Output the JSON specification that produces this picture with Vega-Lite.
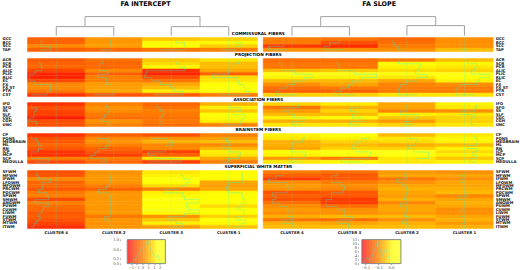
{"$schema":"https://vega.github.io/schema/vega-lite/v6.json","background":"white","padding":{"left":1.5,"top":0.6,"right":0,"bottom":0},
"config":{"view":{"stroke":null},"axis":{"grid":false,"ticks":false,"domain":false,"title":null,"labelFont":"DejaVu Sans","labelFontWeight":"bold","labelFontSize":3.9,"labelColor":"#111","labelOverlap":false,"labelBound":false,"labelFlush":false},"rect":{"strokeWidth":0.5},"line":{"interpolate":"step-before","color":"#00ffff","opacity":0.34,"strokeWidth":0.9},"rule":{"color":"#00ffff","opacity":0.18,"strokeWidth":1},"text":{"font":"DejaVu Sans","fontWeight":"bold","fontSize":4.2,"color":"#000"},"title":{"font":"DejaVu Sans","fontWeight":"bold","fontSize":6.4,"color":"#000","offset":9}},
"datasets":{"cells":[
{"p":"I","g":1,"i":0,"t":"GCC","c":"CLUSTER 4","v":-0.55},{"p":"I","g":1,"i":0,"t":"GCC","c":"CLUSTER 2","v":0.15},{"p":"I","g":1,"i":0,"t":"GCC","c":"CLUSTER 3","v":0.6},{"p":"I","g":1,"i":0,"t":"GCC","c":"CLUSTER 1","v":0.7},
{"p":"I","g":1,"i":1,"t":"BCC","c":"CLUSTER 4","v":-0.55},{"p":"I","g":1,"i":1,"t":"BCC","c":"CLUSTER 2","v":0.15},{"p":"I","g":1,"i":1,"t":"BCC","c":"CLUSTER 3","v":1.1},{"p":"I","g":1,"i":1,"t":"BCC","c":"CLUSTER 1","v":1.1},
{"p":"I","g":1,"i":2,"t":"SCC","c":"CLUSTER 4","v":0.0},{"p":"I","g":1,"i":2,"t":"SCC","c":"CLUSTER 2","v":0.2},{"p":"I","g":1,"i":2,"t":"SCC","c":"CLUSTER 3","v":1.15},{"p":"I","g":1,"i":2,"t":"SCC","c":"CLUSTER 1","v":0.7},
{"p":"I","g":1,"i":3,"t":"TAP","c":"CLUSTER 4","v":-0.6},{"p":"I","g":1,"i":3,"t":"TAP","c":"CLUSTER 2","v":-0.5},{"p":"I","g":1,"i":3,"t":"TAP","c":"CLUSTER 3","v":-0.3},{"p":"I","g":1,"i":3,"t":"TAP","c":"CLUSTER 1","v":-0.1},
{"p":"I","g":2,"i":0,"t":"ACR","c":"CLUSTER 4","v":-0.65},{"p":"I","g":2,"i":0,"t":"ACR","c":"CLUSTER 2","v":-0.3},{"p":"I","g":2,"i":0,"t":"ACR","c":"CLUSTER 3","v":0.6},{"p":"I","g":2,"i":0,"t":"ACR","c":"CLUSTER 1","v":0.9},
{"p":"I","g":2,"i":1,"t":"SCR","c":"CLUSTER 4","v":-0.55},{"p":"I","g":2,"i":1,"t":"SCR","c":"CLUSTER 2","v":-0.5},{"p":"I","g":2,"i":1,"t":"SCR","c":"CLUSTER 3","v":0.8},{"p":"I","g":2,"i":1,"t":"SCR","c":"CLUSTER 1","v":0.5},
{"p":"I","g":2,"i":2,"t":"PCR","c":"CLUSTER 4","v":-0.5},{"p":"I","g":2,"i":2,"t":"PCR","c":"CLUSTER 2","v":-0.5},{"p":"I","g":2,"i":2,"t":"PCR","c":"CLUSTER 3","v":1.1},{"p":"I","g":2,"i":2,"t":"PCR","c":"CLUSTER 1","v":0.5},
{"p":"I","g":2,"i":3,"t":"ALIC","c":"CLUSTER 4","v":-0.9},{"p":"I","g":2,"i":3,"t":"ALIC","c":"CLUSTER 2","v":0.0},{"p":"I","g":2,"i":3,"t":"ALIC","c":"CLUSTER 3","v":-1.1},{"p":"I","g":2,"i":3,"t":"ALIC","c":"CLUSTER 1","v":0.3},
{"p":"I","g":2,"i":4,"t":"PLIC","c":"CLUSTER 4","v":-1.2},{"p":"I","g":2,"i":4,"t":"PLIC","c":"CLUSTER 2","v":-0.6},{"p":"I","g":2,"i":4,"t":"PLIC","c":"CLUSTER 3","v":-1.2},{"p":"I","g":2,"i":4,"t":"PLIC","c":"CLUSTER 1","v":-0.6},
{"p":"I","g":2,"i":5,"t":"RLIC","c":"CLUSTER 4","v":-1.2},{"p":"I","g":2,"i":5,"t":"RLIC","c":"CLUSTER 2","v":-0.1},{"p":"I","g":2,"i":5,"t":"RLIC","c":"CLUSTER 3","v":-0.8},{"p":"I","g":2,"i":5,"t":"RLIC","c":"CLUSTER 1","v":0.8},
{"p":"I","g":2,"i":6,"t":"EC","c":"CLUSTER 4","v":-0.9},{"p":"I","g":2,"i":6,"t":"EC","c":"CLUSTER 2","v":-0.1},{"p":"I","g":2,"i":6,"t":"EC","c":"CLUSTER 3","v":-0.3},{"p":"I","g":2,"i":6,"t":"EC","c":"CLUSTER 1","v":0.9},
{"p":"I","g":2,"i":7,"t":"FX","c":"CLUSTER 4","v":0.0},{"p":"I","g":2,"i":7,"t":"FX","c":"CLUSTER 2","v":0.2},{"p":"I","g":2,"i":7,"t":"FX","c":"CLUSTER 3","v":0.3},{"p":"I","g":2,"i":7,"t":"FX","c":"CLUSTER 1","v":1.2},
{"p":"I","g":2,"i":8,"t":"FX ST","c":"CLUSTER 4","v":0.0},{"p":"I","g":2,"i":8,"t":"FX ST","c":"CLUSTER 2","v":0.2},{"p":"I","g":2,"i":8,"t":"FX ST","c":"CLUSTER 3","v":0.5},{"p":"I","g":2,"i":8,"t":"FX ST","c":"CLUSTER 1","v":1.3},
{"p":"I","g":2,"i":9,"t":"PTR","c":"CLUSTER 4","v":-0.2},{"p":"I","g":2,"i":9,"t":"PTR","c":"CLUSTER 2","v":0.3},{"p":"I","g":2,"i":9,"t":"PTR","c":"CLUSTER 3","v":1.0},{"p":"I","g":2,"i":9,"t":"PTR","c":"CLUSTER 1","v":1.5},
{"p":"I","g":2,"i":10,"t":"CST","c":"CLUSTER 4","v":-1.1},{"p":"I","g":2,"i":10,"t":"CST","c":"CLUSTER 2","v":-0.8},{"p":"I","g":2,"i":10,"t":"CST","c":"CLUSTER 3","v":-0.7},{"p":"I","g":2,"i":10,"t":"CST","c":"CLUSTER 1","v":-0.2},
{"p":"I","g":3,"i":0,"t":"IFO","c":"CLUSTER 4","v":-1.1},{"p":"I","g":3,"i":0,"t":"IFO","c":"CLUSTER 2","v":-0.1},{"p":"I","g":3,"i":0,"t":"IFO","c":"CLUSTER 3","v":-0.5},{"p":"I","g":3,"i":0,"t":"IFO","c":"CLUSTER 1","v":0.4},
{"p":"I","g":3,"i":1,"t":"SFO","c":"CLUSTER 4","v":-0.8},{"p":"I","g":3,"i":1,"t":"SFO","c":"CLUSTER 2","v":0.1},{"p":"I","g":3,"i":1,"t":"SFO","c":"CLUSTER 3","v":-0.3},{"p":"I","g":3,"i":1,"t":"SFO","c":"CLUSTER 1","v":1.0},
{"p":"I","g":3,"i":2,"t":"SS","c":"CLUSTER 4","v":-0.95},{"p":"I","g":3,"i":2,"t":"SS","c":"CLUSTER 2","v":0.0},{"p":"I","g":3,"i":2,"t":"SS","c":"CLUSTER 3","v":-0.1},{"p":"I","g":3,"i":2,"t":"SS","c":"CLUSTER 1","v":0.6},
{"p":"I","g":3,"i":3,"t":"SLF","c":"CLUSTER 4","v":-0.95},{"p":"I","g":3,"i":3,"t":"SLF","c":"CLUSTER 2","v":-0.2},{"p":"I","g":3,"i":3,"t":"SLF","c":"CLUSTER 3","v":-0.2},{"p":"I","g":3,"i":3,"t":"SLF","c":"CLUSTER 1","v":1.3},
{"p":"I","g":3,"i":4,"t":"CGC","c":"CLUSTER 4","v":-1.25},{"p":"I","g":3,"i":4,"t":"CGC","c":"CLUSTER 2","v":-0.4},{"p":"I","g":3,"i":4,"t":"CGC","c":"CLUSTER 3","v":-0.35},{"p":"I","g":3,"i":4,"t":"CGC","c":"CLUSTER 1","v":1.1},
{"p":"I","g":3,"i":5,"t":"CGH","c":"CLUSTER 4","v":-0.8},{"p":"I","g":3,"i":5,"t":"CGH","c":"CLUSTER 2","v":0.1},{"p":"I","g":3,"i":5,"t":"CGH","c":"CLUSTER 3","v":-0.2},{"p":"I","g":3,"i":5,"t":"CGH","c":"CLUSTER 1","v":1.0},
{"p":"I","g":3,"i":6,"t":"UNC","c":"CLUSTER 4","v":-0.8},{"p":"I","g":3,"i":6,"t":"UNC","c":"CLUSTER 2","v":-0.1},{"p":"I","g":3,"i":6,"t":"UNC","c":"CLUSTER 3","v":-0.4},{"p":"I","g":3,"i":6,"t":"UNC","c":"CLUSTER 1","v":-0.1},
{"p":"I","g":4,"i":0,"t":"CP","c":"CLUSTER 4","v":-1.1},{"p":"I","g":4,"i":0,"t":"CP","c":"CLUSTER 2","v":-0.6},{"p":"I","g":4,"i":0,"t":"CP","c":"CLUSTER 3","v":-0.8},{"p":"I","g":4,"i":0,"t":"CP","c":"CLUSTER 1","v":-0.1},
{"p":"I","g":4,"i":1,"t":"PONS","c":"CLUSTER 4","v":-0.8},{"p":"I","g":4,"i":1,"t":"PONS","c":"CLUSTER 2","v":0.0},{"p":"I","g":4,"i":1,"t":"PONS","c":"CLUSTER 3","v":0.1},{"p":"I","g":4,"i":1,"t":"PONS","c":"CLUSTER 1","v":0.2},
{"p":"I","g":4,"i":2,"t":"MEDBRAIN","c":"CLUSTER 4","v":-0.7},{"p":"I","g":4,"i":2,"t":"MEDBRAIN","c":"CLUSTER 2","v":0.1},{"p":"I","g":4,"i":2,"t":"MEDBRAIN","c":"CLUSTER 3","v":0.4},{"p":"I","g":4,"i":2,"t":"MEDBRAIN","c":"CLUSTER 1","v":0.5},
{"p":"I","g":4,"i":3,"t":"ML","c":"CLUSTER 4","v":-0.5},{"p":"I","g":4,"i":3,"t":"ML","c":"CLUSTER 2","v":-0.1},{"p":"I","g":4,"i":3,"t":"ML","c":"CLUSTER 3","v":0.0},{"p":"I","g":4,"i":3,"t":"ML","c":"CLUSTER 1","v":0.0},
{"p":"I","g":4,"i":4,"t":"RN","c":"CLUSTER 4","v":-0.7},{"p":"I","g":4,"i":4,"t":"RN","c":"CLUSTER 2","v":-0.5},{"p":"I","g":4,"i":4,"t":"RN","c":"CLUSTER 3","v":0.0},{"p":"I","g":4,"i":4,"t":"RN","c":"CLUSTER 1","v":0.4},
{"p":"I","g":4,"i":5,"t":"ICP","c":"CLUSTER 4","v":-1.1},{"p":"I","g":4,"i":5,"t":"ICP","c":"CLUSTER 2","v":-0.75},{"p":"I","g":4,"i":5,"t":"ICP","c":"CLUSTER 3","v":-1.0},{"p":"I","g":4,"i":5,"t":"ICP","c":"CLUSTER 1","v":1.0},
{"p":"I","g":4,"i":6,"t":"MCP","c":"CLUSTER 4","v":-1.1},{"p":"I","g":4,"i":6,"t":"MCP","c":"CLUSTER 2","v":-1.0},{"p":"I","g":4,"i":6,"t":"MCP","c":"CLUSTER 3","v":-0.6},{"p":"I","g":4,"i":6,"t":"MCP","c":"CLUSTER 1","v":0.9},
{"p":"I","g":4,"i":7,"t":"SCP","c":"CLUSTER 4","v":-0.1},{"p":"I","g":4,"i":7,"t":"SCP","c":"CLUSTER 2","v":-0.1},{"p":"I","g":4,"i":7,"t":"SCP","c":"CLUSTER 3","v":0.9},{"p":"I","g":4,"i":7,"t":"SCP","c":"CLUSTER 1","v":0.3},
{"p":"I","g":4,"i":8,"t":"MEDULLA","c":"CLUSTER 4","v":-0.9},{"p":"I","g":4,"i":8,"t":"MEDULLA","c":"CLUSTER 2","v":-0.5},{"p":"I","g":4,"i":8,"t":"MEDULLA","c":"CLUSTER 3","v":-1.0},{"p":"I","g":4,"i":8,"t":"MEDULLA","c":"CLUSTER 1","v":-0.1},
{"p":"I","g":5,"i":0,"t":"SFWM","c":"CLUSTER 4","v":-0.8},{"p":"I","g":5,"i":0,"t":"SFWM","c":"CLUSTER 2","v":0.1},{"p":"I","g":5,"i":0,"t":"SFWM","c":"CLUSTER 3","v":0.9},{"p":"I","g":5,"i":0,"t":"SFWM","c":"CLUSTER 1","v":1.1},
{"p":"I","g":5,"i":1,"t":"MFWM","c":"CLUSTER 4","v":-0.7},{"p":"I","g":5,"i":1,"t":"MFWM","c":"CLUSTER 2","v":0.15},{"p":"I","g":5,"i":1,"t":"MFWM","c":"CLUSTER 3","v":1.05},{"p":"I","g":5,"i":1,"t":"MFWM","c":"CLUSTER 1","v":1.15},
{"p":"I","g":5,"i":2,"t":"IFWM","c":"CLUSTER 4","v":0.0},{"p":"I","g":5,"i":2,"t":"IFWM","c":"CLUSTER 2","v":0.15},{"p":"I","g":5,"i":2,"t":"IFWM","c":"CLUSTER 3","v":1.4},{"p":"I","g":5,"i":2,"t":"IFWM","c":"CLUSTER 1","v":1.1},
{"p":"I","g":5,"i":3,"t":"LFOWM","c":"CLUSTER 4","v":-0.5},{"p":"I","g":5,"i":3,"t":"LFOWM","c":"CLUSTER 2","v":0.1},{"p":"I","g":5,"i":3,"t":"LFOWM","c":"CLUSTER 3","v":1.2},{"p":"I","g":5,"i":3,"t":"LFOWM","c":"CLUSTER 1","v":0.3},
{"p":"I","g":5,"i":4,"t":"MFOWM","c":"CLUSTER 4","v":-0.45},{"p":"I","g":5,"i":4,"t":"MFOWM","c":"CLUSTER 2","v":-0.1},{"p":"I","g":5,"i":4,"t":"MFOWM","c":"CLUSTER 3","v":0.8},{"p":"I","g":5,"i":4,"t":"MFOWM","c":"CLUSTER 1","v":0.2},
{"p":"I","g":5,"i":5,"t":"PRCWM","c":"CLUSTER 4","v":-0.7},{"p":"I","g":5,"i":5,"t":"PRCWM","c":"CLUSTER 2","v":-0.55},{"p":"I","g":5,"i":5,"t":"PRCWM","c":"CLUSTER 3","v":-0.1},{"p":"I","g":5,"i":5,"t":"PRCWM","c":"CLUSTER 1","v":0.3},
{"p":"I","g":5,"i":6,"t":"POCWM","c":"CLUSTER 4","v":-0.2},{"p":"I","g":5,"i":6,"t":"POCWM","c":"CLUSTER 2","v":0.1},{"p":"I","g":5,"i":6,"t":"POCWM","c":"CLUSTER 3","v":1.0},{"p":"I","g":5,"i":6,"t":"POCWM","c":"CLUSTER 1","v":1.1},
{"p":"I","g":5,"i":7,"t":"SPWM","c":"CLUSTER 4","v":-0.1},{"p":"I","g":5,"i":7,"t":"SPWM","c":"CLUSTER 2","v":0.15},{"p":"I","g":5,"i":7,"t":"SPWM","c":"CLUSTER 3","v":1.1},{"p":"I","g":5,"i":7,"t":"SPWM","c":"CLUSTER 1","v":1.15},
{"p":"I","g":5,"i":8,"t":"SMWM","c":"CLUSTER 4","v":-0.9},{"p":"I","g":5,"i":8,"t":"SMWM","c":"CLUSTER 2","v":0.15},{"p":"I","g":5,"i":8,"t":"SMWM","c":"CLUSTER 3","v":1.95},{"p":"I","g":5,"i":8,"t":"SMWM","c":"CLUSTER 1","v":1.3},
{"p":"I","g":5,"i":9,"t":"ANGWM","c":"CLUSTER 4","v":-0.1},{"p":"I","g":5,"i":9,"t":"ANGWM","c":"CLUSTER 2","v":0.15},{"p":"I","g":5,"i":9,"t":"ANGWM","c":"CLUSTER 3","v":1.2},{"p":"I","g":5,"i":9,"t":"ANGWM","c":"CLUSTER 1","v":1.15},
{"p":"I","g":5,"i":10,"t":"PUWM","c":"CLUSTER 4","v":-0.4},{"p":"I","g":5,"i":10,"t":"PUWM","c":"CLUSTER 2","v":0.15},{"p":"I","g":5,"i":10,"t":"PUWM","c":"CLUSTER 3","v":1.3},{"p":"I","g":5,"i":10,"t":"PUWM","c":"CLUSTER 1","v":0.8},
{"p":"I","g":5,"i":11,"t":"CUWM","c":"CLUSTER 4","v":-0.5},{"p":"I","g":5,"i":11,"t":"CUWM","c":"CLUSTER 2","v":0.15},{"p":"I","g":5,"i":11,"t":"CUWM","c":"CLUSTER 3","v":1.95},{"p":"I","g":5,"i":11,"t":"CUWM","c":"CLUSTER 1","v":1.2},
{"p":"I","g":5,"i":12,"t":"LIWM","c":"CLUSTER 4","v":-0.7},{"p":"I","g":5,"i":12,"t":"LIWM","c":"CLUSTER 2","v":0.15},{"p":"I","g":5,"i":12,"t":"LIWM","c":"CLUSTER 3","v":1.1},{"p":"I","g":5,"i":12,"t":"LIWM","c":"CLUSTER 1","v":1.2},
{"p":"I","g":5,"i":13,"t":"FUWM","c":"CLUSTER 4","v":-0.6},{"p":"I","g":5,"i":13,"t":"FUWM","c":"CLUSTER 2","v":-0.2},{"p":"I","g":5,"i":13,"t":"FUWM","c":"CLUSTER 3","v":0.1},{"p":"I","g":5,"i":13,"t":"FUWM","c":"CLUSTER 1","v":0.7},
{"p":"I","g":5,"i":14,"t":"STWM","c":"CLUSTER 4","v":-0.8},{"p":"I","g":5,"i":14,"t":"STWM","c":"CLUSTER 2","v":0.1},{"p":"I","g":5,"i":14,"t":"STWM","c":"CLUSTER 3","v":0.6},{"p":"I","g":5,"i":14,"t":"STWM","c":"CLUSTER 1","v":1.3},
{"p":"I","g":5,"i":15,"t":"MTWM","c":"CLUSTER 4","v":-0.95},{"p":"I","g":5,"i":15,"t":"MTWM","c":"CLUSTER 2","v":0.1},{"p":"I","g":5,"i":15,"t":"MTWM","c":"CLUSTER 3","v":1.0},{"p":"I","g":5,"i":15,"t":"MTWM","c":"CLUSTER 1","v":1.1},
{"p":"I","g":5,"i":16,"t":"ITWM","c":"CLUSTER 4","v":-1.15},{"p":"I","g":5,"i":16,"t":"ITWM","c":"CLUSTER 2","v":0.1},{"p":"I","g":5,"i":16,"t":"ITWM","c":"CLUSTER 3","v":0.2},{"p":"I","g":5,"i":16,"t":"ITWM","c":"CLUSTER 1","v":0.6},
{"p":"S","g":1,"i":0,"t":"GCC","c":"CLUSTER 4","v":-0.06},{"p":"S","g":1,"i":0,"t":"GCC","c":"CLUSTER 3","v":-0.065},{"p":"S","g":1,"i":0,"t":"GCC","c":"CLUSTER 2","v":-0.075},{"p":"S","g":1,"i":0,"t":"GCC","c":"CLUSTER 1","v":-0.05},
{"p":"S","g":1,"i":1,"t":"BCC","c":"CLUSTER 4","v":-0.06},{"p":"S","g":1,"i":1,"t":"BCC","c":"CLUSTER 3","v":-0.09},{"p":"S","g":1,"i":1,"t":"BCC","c":"CLUSTER 2","v":-0.07},{"p":"S","g":1,"i":1,"t":"BCC","c":"CLUSTER 1","v":-0.05},
{"p":"S","g":1,"i":2,"t":"SCC","c":"CLUSTER 4","v":-0.1},{"p":"S","g":1,"i":2,"t":"SCC","c":"CLUSTER 3","v":-0.105},{"p":"S","g":1,"i":2,"t":"SCC","c":"CLUSTER 2","v":-0.06},{"p":"S","g":1,"i":2,"t":"SCC","c":"CLUSTER 1","v":-0.05},
{"p":"S","g":1,"i":3,"t":"TAP","c":"CLUSTER 4","v":-0.05},{"p":"S","g":1,"i":3,"t":"TAP","c":"CLUSTER 3","v":-0.05},{"p":"S","g":1,"i":3,"t":"TAP","c":"CLUSTER 2","v":-0.05},{"p":"S","g":1,"i":3,"t":"TAP","c":"CLUSTER 1","v":-0.03},
{"p":"S","g":2,"i":0,"t":"ACR","c":"CLUSTER 4","v":-0.07},{"p":"S","g":2,"i":0,"t":"ACR","c":"CLUSTER 3","v":-0.07},{"p":"S","g":2,"i":0,"t":"ACR","c":"CLUSTER 2","v":-0.06},{"p":"S","g":2,"i":0,"t":"ACR","c":"CLUSTER 1","v":-0.03},
{"p":"S","g":2,"i":1,"t":"SCR","c":"CLUSTER 4","v":-0.065},{"p":"S","g":2,"i":1,"t":"SCR","c":"CLUSTER 3","v":-0.065},{"p":"S","g":2,"i":1,"t":"SCR","c":"CLUSTER 2","v":0.0},{"p":"S","g":2,"i":1,"t":"SCR","c":"CLUSTER 1","v":-0.003},
{"p":"S","g":2,"i":2,"t":"PCR","c":"CLUSTER 4","v":-0.065},{"p":"S","g":2,"i":2,"t":"PCR","c":"CLUSTER 3","v":-0.065},{"p":"S","g":2,"i":2,"t":"PCR","c":"CLUSTER 2","v":-0.005},{"p":"S","g":2,"i":2,"t":"PCR","c":"CLUSTER 1","v":-0.01},
{"p":"S","g":2,"i":3,"t":"ALIC","c":"CLUSTER 4","v":-0.03},{"p":"S","g":2,"i":3,"t":"ALIC","c":"CLUSTER 3","v":-0.025},{"p":"S","g":2,"i":3,"t":"ALIC","c":"CLUSTER 2","v":-0.015},{"p":"S","g":2,"i":3,"t":"ALIC","c":"CLUSTER 1","v":-0.02},
{"p":"S","g":2,"i":4,"t":"PLIC","c":"CLUSTER 4","v":0.02},{"p":"S","g":2,"i":4,"t":"PLIC","c":"CLUSTER 3","v":0.035},{"p":"S","g":2,"i":4,"t":"PLIC","c":"CLUSTER 2","v":0.016},{"p":"S","g":2,"i":4,"t":"PLIC","c":"CLUSTER 1","v":0.03},
{"p":"S","g":2,"i":5,"t":"RLIC","c":"CLUSTER 4","v":-0.005},{"p":"S","g":2,"i":5,"t":"RLIC","c":"CLUSTER 3","v":-0.005},{"p":"S","g":2,"i":5,"t":"RLIC","c":"CLUSTER 2","v":-0.01},{"p":"S","g":2,"i":5,"t":"RLIC","c":"CLUSTER 1","v":0.002},
{"p":"S","g":2,"i":6,"t":"EC","c":"CLUSTER 4","v":-0.03},{"p":"S","g":2,"i":6,"t":"EC","c":"CLUSTER 3","v":-0.03},{"p":"S","g":2,"i":6,"t":"EC","c":"CLUSTER 2","v":-0.04},{"p":"S","g":2,"i":6,"t":"EC","c":"CLUSTER 1","v":-0.005},
{"p":"S","g":2,"i":7,"t":"FX","c":"CLUSTER 4","v":-0.05},{"p":"S","g":2,"i":7,"t":"FX","c":"CLUSTER 3","v":-0.04},{"p":"S","g":2,"i":7,"t":"FX","c":"CLUSTER 2","v":-0.055},{"p":"S","g":2,"i":7,"t":"FX","c":"CLUSTER 1","v":-0.05},
{"p":"S","g":2,"i":8,"t":"FX ST","c":"CLUSTER 4","v":-0.07},{"p":"S","g":2,"i":8,"t":"FX ST","c":"CLUSTER 3","v":-0.06},{"p":"S","g":2,"i":8,"t":"FX ST","c":"CLUSTER 2","v":-0.06},{"p":"S","g":2,"i":8,"t":"FX ST","c":"CLUSTER 1","v":-0.06},
{"p":"S","g":2,"i":9,"t":"PTR","c":"CLUSTER 4","v":-0.08},{"p":"S","g":2,"i":9,"t":"PTR","c":"CLUSTER 3","v":-0.08},{"p":"S","g":2,"i":9,"t":"PTR","c":"CLUSTER 2","v":-0.06},{"p":"S","g":2,"i":9,"t":"PTR","c":"CLUSTER 1","v":-0.06},
{"p":"S","g":2,"i":10,"t":"CST","c":"CLUSTER 4","v":-0.02},{"p":"S","g":2,"i":10,"t":"CST","c":"CLUSTER 3","v":-0.02},{"p":"S","g":2,"i":10,"t":"CST","c":"CLUSTER 2","v":-0.01},{"p":"S","g":2,"i":10,"t":"CST","c":"CLUSTER 1","v":-0.01},
{"p":"S","g":3,"i":0,"t":"IFO","c":"CLUSTER 4","v":-0.02},{"p":"S","g":3,"i":0,"t":"IFO","c":"CLUSTER 3","v":-0.01},{"p":"S","g":3,"i":0,"t":"IFO","c":"CLUSTER 2","v":-0.04},{"p":"S","g":3,"i":0,"t":"IFO","c":"CLUSTER 1","v":-0.005},
{"p":"S","g":3,"i":1,"t":"SFO","c":"CLUSTER 4","v":-0.065},{"p":"S","g":3,"i":1,"t":"SFO","c":"CLUSTER 3","v":-0.035},{"p":"S","g":3,"i":1,"t":"SFO","c":"CLUSTER 2","v":-0.04},{"p":"S","g":3,"i":1,"t":"SFO","c":"CLUSTER 1","v":-0.01},
{"p":"S","g":3,"i":2,"t":"SS","c":"CLUSTER 4","v":-0.045},{"p":"S","g":3,"i":2,"t":"SS","c":"CLUSTER 3","v":-0.02},{"p":"S","g":3,"i":2,"t":"SS","c":"CLUSTER 2","v":-0.055},{"p":"S","g":3,"i":2,"t":"SS","c":"CLUSTER 1","v":-0.05},
{"p":"S","g":3,"i":3,"t":"SLF","c":"CLUSTER 4","v":-0.03},{"p":"S","g":3,"i":3,"t":"SLF","c":"CLUSTER 3","v":-0.03},{"p":"S","g":3,"i":3,"t":"SLF","c":"CLUSTER 2","v":-0.005},{"p":"S","g":3,"i":3,"t":"SLF","c":"CLUSTER 1","v":-0.01},
{"p":"S","g":3,"i":4,"t":"CGC","c":"CLUSTER 4","v":-0.005},{"p":"S","g":3,"i":4,"t":"CGC","c":"CLUSTER 3","v":0.0},{"p":"S","g":3,"i":4,"t":"CGC","c":"CLUSTER 2","v":-0.025},{"p":"S","g":3,"i":4,"t":"CGC","c":"CLUSTER 1","v":-0.02},
{"p":"S","g":3,"i":5,"t":"CGH","c":"CLUSTER 4","v":-0.035},{"p":"S","g":3,"i":5,"t":"CGH","c":"CLUSTER 3","v":-0.035},{"p":"S","g":3,"i":5,"t":"CGH","c":"CLUSTER 2","v":-0.045},{"p":"S","g":3,"i":5,"t":"CGH","c":"CLUSTER 1","v":-0.02},
{"p":"S","g":3,"i":6,"t":"UNC","c":"CLUSTER 4","v":-0.01},{"p":"S","g":3,"i":6,"t":"UNC","c":"CLUSTER 3","v":-0.01},{"p":"S","g":3,"i":6,"t":"UNC","c":"CLUSTER 2","v":-0.02},{"p":"S","g":3,"i":6,"t":"UNC","c":"CLUSTER 1","v":-0.01},
{"p":"S","g":4,"i":0,"t":"CP","c":"CLUSTER 4","v":-0.005},{"p":"S","g":4,"i":0,"t":"CP","c":"CLUSTER 3","v":0.016},{"p":"S","g":4,"i":0,"t":"CP","c":"CLUSTER 2","v":-0.03},{"p":"S","g":4,"i":0,"t":"CP","c":"CLUSTER 1","v":-0.01},
{"p":"S","g":4,"i":1,"t":"PONS","c":"CLUSTER 4","v":-0.01},{"p":"S","g":4,"i":1,"t":"PONS","c":"CLUSTER 3","v":-0.005},{"p":"S","g":4,"i":1,"t":"PONS","c":"CLUSTER 2","v":-0.01},{"p":"S","g":4,"i":1,"t":"PONS","c":"CLUSTER 1","v":-0.003},
{"p":"S","g":4,"i":2,"t":"MEDBRAIN","c":"CLUSTER 4","v":-0.035},{"p":"S","g":4,"i":2,"t":"MEDBRAIN","c":"CLUSTER 3","v":-0.02},{"p":"S","g":4,"i":2,"t":"MEDBRAIN","c":"CLUSTER 2","v":-0.015},{"p":"S","g":4,"i":2,"t":"MEDBRAIN","c":"CLUSTER 1","v":-0.005},
{"p":"S","g":4,"i":3,"t":"ML","c":"CLUSTER 4","v":-0.035},{"p":"S","g":4,"i":3,"t":"ML","c":"CLUSTER 3","v":-0.03},{"p":"S","g":4,"i":3,"t":"ML","c":"CLUSTER 2","v":-0.035},{"p":"S","g":4,"i":3,"t":"ML","c":"CLUSTER 1","v":-0.03},
{"p":"S","g":4,"i":4,"t":"RN","c":"CLUSTER 4","v":-0.04},{"p":"S","g":4,"i":4,"t":"RN","c":"CLUSTER 3","v":-0.02},{"p":"S","g":4,"i":4,"t":"RN","c":"CLUSTER 2","v":-0.02},{"p":"S","g":4,"i":4,"t":"RN","c":"CLUSTER 1","v":-0.005},
{"p":"S","g":4,"i":5,"t":"ICP","c":"CLUSTER 4","v":0.0},{"p":"S","g":4,"i":5,"t":"ICP","c":"CLUSTER 3","v":0.02},{"p":"S","g":4,"i":5,"t":"ICP","c":"CLUSTER 2","v":0.02},{"p":"S","g":4,"i":5,"t":"ICP","c":"CLUSTER 1","v":-0.015},
{"p":"S","g":4,"i":6,"t":"MCP","c":"CLUSTER 4","v":-0.005},{"p":"S","g":4,"i":6,"t":"MCP","c":"CLUSTER 3","v":0.015},{"p":"S","g":4,"i":6,"t":"MCP","c":"CLUSTER 2","v":0.02},{"p":"S","g":4,"i":6,"t":"MCP","c":"CLUSTER 1","v":-0.005},
{"p":"S","g":4,"i":7,"t":"SCP","c":"CLUSTER 4","v":-0.045},{"p":"S","g":4,"i":7,"t":"SCP","c":"CLUSTER 3","v":-0.06},{"p":"S","g":4,"i":7,"t":"SCP","c":"CLUSTER 2","v":-0.01},{"p":"S","g":4,"i":7,"t":"SCP","c":"CLUSTER 1","v":-0.025},
{"p":"S","g":4,"i":8,"t":"MEDULLA","c":"CLUSTER 4","v":-0.01},{"p":"S","g":4,"i":8,"t":"MEDULLA","c":"CLUSTER 3","v":-0.003},{"p":"S","g":4,"i":8,"t":"MEDULLA","c":"CLUSTER 2","v":-0.01},{"p":"S","g":4,"i":8,"t":"MEDULLA","c":"CLUSTER 1","v":-0.005},
{"p":"S","g":5,"i":0,"t":"SFWM","c":"CLUSTER 4","v":-0.06},{"p":"S","g":5,"i":0,"t":"SFWM","c":"CLUSTER 3","v":-0.07},{"p":"S","g":5,"i":0,"t":"SFWM","c":"CLUSTER 2","v":-0.045},{"p":"S","g":5,"i":0,"t":"SFWM","c":"CLUSTER 1","v":-0.05},
{"p":"S","g":5,"i":1,"t":"MFWM","c":"CLUSTER 4","v":-0.08},{"p":"S","g":5,"i":1,"t":"MFWM","c":"CLUSTER 3","v":-0.085},{"p":"S","g":5,"i":1,"t":"MFWM","c":"CLUSTER 2","v":-0.04},{"p":"S","g":5,"i":1,"t":"MFWM","c":"CLUSTER 1","v":-0.04},
{"p":"S","g":5,"i":2,"t":"IFWM","c":"CLUSTER 4","v":-0.1},{"p":"S","g":5,"i":2,"t":"IFWM","c":"CLUSTER 3","v":-0.085},{"p":"S","g":5,"i":2,"t":"IFWM","c":"CLUSTER 2","v":-0.065},{"p":"S","g":5,"i":2,"t":"IFWM","c":"CLUSTER 1","v":-0.05},
{"p":"S","g":5,"i":3,"t":"LFOWM","c":"CLUSTER 4","v":-0.05},{"p":"S","g":5,"i":3,"t":"LFOWM","c":"CLUSTER 3","v":-0.06},{"p":"S","g":5,"i":3,"t":"LFOWM","c":"CLUSTER 2","v":-0.05},{"p":"S","g":5,"i":3,"t":"LFOWM","c":"CLUSTER 1","v":-0.04},
{"p":"S","g":5,"i":4,"t":"MFOWM","c":"CLUSTER 4","v":-0.045},{"p":"S","g":5,"i":4,"t":"MFOWM","c":"CLUSTER 3","v":-0.05},{"p":"S","g":5,"i":4,"t":"MFOWM","c":"CLUSTER 2","v":-0.04},{"p":"S","g":5,"i":4,"t":"MFOWM","c":"CLUSTER 1","v":-0.04},
{"p":"S","g":5,"i":5,"t":"PRCWM","c":"CLUSTER 4","v":-0.05},{"p":"S","g":5,"i":5,"t":"PRCWM","c":"CLUSTER 3","v":-0.055},{"p":"S","g":5,"i":5,"t":"PRCWM","c":"CLUSTER 2","v":-0.035},{"p":"S","g":5,"i":5,"t":"PRCWM","c":"CLUSTER 1","v":-0.035},
{"p":"S","g":5,"i":6,"t":"POCWM","c":"CLUSTER 4","v":-0.09},{"p":"S","g":5,"i":6,"t":"POCWM","c":"CLUSTER 3","v":-0.085},{"p":"S","g":5,"i":6,"t":"POCWM","c":"CLUSTER 2","v":-0.04},{"p":"S","g":5,"i":6,"t":"POCWM","c":"CLUSTER 1","v":-0.03},
{"p":"S","g":5,"i":7,"t":"SPWM","c":"CLUSTER 4","v":-0.08},{"p":"S","g":5,"i":7,"t":"SPWM","c":"CLUSTER 3","v":-0.085},{"p":"S","g":5,"i":7,"t":"SPWM","c":"CLUSTER 2","v":-0.045},{"p":"S","g":5,"i":7,"t":"SPWM","c":"CLUSTER 1","v":-0.055},
{"p":"S","g":5,"i":8,"t":"SMWM","c":"CLUSTER 4","v":-0.09},{"p":"S","g":5,"i":8,"t":"SMWM","c":"CLUSTER 3","v":-0.1},{"p":"S","g":5,"i":8,"t":"SMWM","c":"CLUSTER 2","v":-0.035},{"p":"S","g":5,"i":8,"t":"SMWM","c":"CLUSTER 1","v":-0.04},
{"p":"S","g":5,"i":9,"t":"ANGWM","c":"CLUSTER 4","v":-0.07},{"p":"S","g":5,"i":9,"t":"ANGWM","c":"CLUSTER 3","v":-0.1},{"p":"S","g":5,"i":9,"t":"ANGWM","c":"CLUSTER 2","v":-0.055},{"p":"S","g":5,"i":9,"t":"ANGWM","c":"CLUSTER 1","v":-0.035},
{"p":"S","g":5,"i":10,"t":"PUWM","c":"CLUSTER 4","v":-0.05},{"p":"S","g":5,"i":10,"t":"PUWM","c":"CLUSTER 3","v":-0.07},{"p":"S","g":5,"i":10,"t":"PUWM","c":"CLUSTER 2","v":-0.04},{"p":"S","g":5,"i":10,"t":"PUWM","c":"CLUSTER 1","v":-0.04},
{"p":"S","g":5,"i":11,"t":"CUWM","c":"CLUSTER 4","v":-0.045},{"p":"S","g":5,"i":11,"t":"CUWM","c":"CLUSTER 3","v":-0.05},{"p":"S","g":5,"i":11,"t":"CUWM","c":"CLUSTER 2","v":-0.04},{"p":"S","g":5,"i":11,"t":"CUWM","c":"CLUSTER 1","v":-0.05},
{"p":"S","g":5,"i":12,"t":"LIWM","c":"CLUSTER 4","v":-0.05},{"p":"S","g":5,"i":12,"t":"LIWM","c":"CLUSTER 3","v":-0.05},{"p":"S","g":5,"i":12,"t":"LIWM","c":"CLUSTER 2","v":-0.045},{"p":"S","g":5,"i":12,"t":"LIWM","c":"CLUSTER 1","v":-0.05},
{"p":"S","g":5,"i":13,"t":"FUWM","c":"CLUSTER 4","v":-0.035},{"p":"S","g":5,"i":13,"t":"FUWM","c":"CLUSTER 3","v":-0.03},{"p":"S","g":5,"i":13,"t":"FUWM","c":"CLUSTER 2","v":-0.03},{"p":"S","g":5,"i":13,"t":"FUWM","c":"CLUSTER 1","v":-0.04},
{"p":"S","g":5,"i":14,"t":"STWM","c":"CLUSTER 4","v":-0.065},{"p":"S","g":5,"i":14,"t":"STWM","c":"CLUSTER 3","v":-0.07},{"p":"S","g":5,"i":14,"t":"STWM","c":"CLUSTER 2","v":-0.05},{"p":"S","g":5,"i":14,"t":"STWM","c":"CLUSTER 1","v":-0.035},
{"p":"S","g":5,"i":15,"t":"MTWM","c":"CLUSTER 4","v":-0.035},{"p":"S","g":5,"i":15,"t":"MTWM","c":"CLUSTER 3","v":-0.04},{"p":"S","g":5,"i":15,"t":"MTWM","c":"CLUSTER 2","v":-0.035},{"p":"S","g":5,"i":15,"t":"MTWM","c":"CLUSTER 1","v":-0.045},
{"p":"S","g":5,"i":16,"t":"ITWM","c":"CLUSTER 4","v":-0.03},{"p":"S","g":5,"i":16,"t":"ITWM","c":"CLUSTER 3","v":-0.03},{"p":"S","g":5,"i":16,"t":"ITWM","c":"CLUSTER 2","v":-0.03},{"p":"S","g":5,"i":16,"t":"ITWM","c":"CLUSTER 1","v":-0.035}
]},
"bounds":"flush","columns":2,"spacing":{"row":0,"column":5.7},"resolve":{"scale":{"color":"independent","stroke":"independent"}},
"concat":[
  {"width":230,"height":19,"title":{"text":"FA INTERCEPT","dx":3},"data":{"values":[{"a":1,"b":3,"h":19,"k":19},{"a":1,"b":1,"h":9,"k":19},{"a":3,"b":3,"h":9,"k":19},{"a":0.5,"b":1.5,"h":9,"k":9},{"a":2.5,"b":3.5,"h":9,"k":9},{"a":0.5,"b":0.5,"h":0,"k":9},{"a":1.5,"b":1.5,"h":0,"k":9},{"a":2.5,"b":2.5,"h":0,"k":9},{"a":3.5,"b":3.5,"h":0,"k":9}]},"mark":{"type":"rule","color":"#a0a0a0","opacity":1},"encoding":{"x":{"field":"a","type":"quantitative","scale":{"domain":[0,4]},"axis":null},"x2":{"field":"b"},"y":{"field":"h","type":"quantitative","scale":{"domain":[0,19]},"axis":null},"y2":{"field":"k"}}},
  {"width":230,"height":19,"title":{"text":"FA SLOPE","dx":1},"data":{"values":[{"a":1,"b":3,"h":19,"k":19},{"a":1,"b":1,"h":9,"k":19},{"a":3,"b":3,"h":10,"k":19},{"a":0.5,"b":1.5,"h":9,"k":9},{"a":2.5,"b":3.5,"h":10,"k":10},{"a":0.5,"b":0.5,"h":0,"k":9},{"a":1.5,"b":1.5,"h":0,"k":9},{"a":2.5,"b":2.5,"h":0,"k":10},{"a":3.5,"b":3.5,"h":0,"k":10}]},"mark":{"type":"rule","color":"#a0a0a0","opacity":1},"encoding":{"x":{"field":"a","type":"quantitative","scale":{"domain":[0,4]},"axis":null},"x2":{"field":"b"},"y":{"field":"h","type":"quantitative","scale":{"domain":[0,19]},"axis":null},"y2":{"field":"k"}}},
 {"width":230,"height":2,"data":{"values":[{"s":"COMMISSURAL FIBERS"}]},"mark":{"type":"text","dy":-2.5,"dx":115.85},"encoding":{"text":{"field":"s"}}},
 {"width":230,"height":2,"data":{"values":[{"s":""}]},"mark":"text","encoding":{"text":{"field":"s"}}},
  {"width":230,"height":14,"data":{"name":"cells"},"transform":[{"filter":"datum.p=='I'&&datum.g==1"}],"resolve":{"scale":{"x":"independent"}},"layer":[
   {"mark":"rect","encoding":{"x":{"field":"c","type":"nominal","scale":{"domain":["CLUSTER 4","CLUSTER 2","CLUSTER 3","CLUSTER 1"]},"axis":null},"y":{"field":"t","type":"nominal","sort":null,"axis":{"orient":"left","labelAlign":"left","labelPadding":25.5}},"color":{"field":"v","type":"quantitative","legend":null,"scale":{"domain":[-1.33,-0.085,1.16,1.99],"range":["#ff0000","#ff8000","#ffff00","#ffffff"]}},"stroke":{"field":"v","type":"quantitative","legend":null,"scale":{"domain":[-1.33,-0.085,1.16,1.99],"range":["#ff0000","#ff8000","#ffff00","#ffffff"]}}}},
   {"transform":[{"aggregate":[{"op":"count","as":"n"}],"groupby":["c"]}],"mark":"rule","encoding":{"x":{"field":"c","type":"nominal","scale":{"domain":["CLUSTER 4","CLUSTER 2","CLUSTER 3","CLUSTER 1"]},"axis":null}}},
   {"transform":[{"filter":"datum.c=='CLUSTER 4'"}],"mark":"line","encoding":{"x":{"field":"v","type":"quantitative","scale":{"domain":[-1.33,11.95]},"axis":null},"y":{"field":"t","type":"nominal","sort":null},"order":{"field":"i"}}},
   {"transform":[{"filter":"datum.c=='CLUSTER 2'"}],"mark":"line","encoding":{"x":{"field":"v","type":"quantitative","scale":{"domain":[-4.65,8.63]},"axis":null},"y":{"field":"t","type":"nominal","sort":null},"order":{"field":"i"}}},
   {"transform":[{"filter":"datum.c=='CLUSTER 3'"}],"mark":"line","encoding":{"x":{"field":"v","type":"quantitative","scale":{"domain":[-7.97,5.31]},"axis":null},"y":{"field":"t","type":"nominal","sort":null},"order":{"field":"i"}}},
   {"transform":[{"filter":"datum.c=='CLUSTER 1'"}],"mark":"line","encoding":{"x":{"field":"v","type":"quantitative","scale":{"domain":[-11.29,1.99]},"axis":null},"y":{"field":"t","type":"nominal","sort":null},"order":{"field":"i"}}}
  ]},
  {"width":230,"height":14,"data":{"name":"cells"},"transform":[{"filter":"datum.p=='S'&&datum.g==1"}],"resolve":{"scale":{"x":"independent"}},"layer":[
   {"mark":"rect","encoding":{"x":{"field":"c","type":"nominal","scale":{"domain":["CLUSTER 4","CLUSTER 3","CLUSTER 2","CLUSTER 1"]},"axis":null},"y":{"field":"t","type":"nominal","sort":null,"axis":{"orient":"right","labelPadding":2}},"color":{"field":"v","type":"quantitative","legend":null,"scale":{"domain":[-0.114,-0.0566,0.0008,0.039],"range":["#ff0000","#ff8000","#ffff00","#ffffff"]}},"stroke":{"field":"v","type":"quantitative","legend":null,"scale":{"domain":[-0.114,-0.0566,0.0008,0.039],"range":["#ff0000","#ff8000","#ffff00","#ffffff"]}}}},
   {"transform":[{"aggregate":[{"op":"count","as":"n"}],"groupby":["c"]}],"mark":"rule","encoding":{"x":{"field":"c","type":"nominal","scale":{"domain":["CLUSTER 4","CLUSTER 3","CLUSTER 2","CLUSTER 1"]},"axis":null}}},
   {"transform":[{"filter":"datum.c=='CLUSTER 4'"}],"mark":"line","encoding":{"x":{"field":"v","type":"quantitative","scale":{"domain":[-0.114,0.498]},"axis":null},"y":{"field":"t","type":"nominal","sort":null},"order":{"field":"i"}}},
   {"transform":[{"filter":"datum.c=='CLUSTER 3'"}],"mark":"line","encoding":{"x":{"field":"v","type":"quantitative","scale":{"domain":[-0.267,0.345]},"axis":null},"y":{"field":"t","type":"nominal","sort":null},"order":{"field":"i"}}},
   {"transform":[{"filter":"datum.c=='CLUSTER 2'"}],"mark":"line","encoding":{"x":{"field":"v","type":"quantitative","scale":{"domain":[-0.42,0.192]},"axis":null},"y":{"field":"t","type":"nominal","sort":null},"order":{"field":"i"}}},
   {"transform":[{"filter":"datum.c=='CLUSTER 1'"}],"mark":"line","encoding":{"x":{"field":"v","type":"quantitative","scale":{"domain":[-0.573,0.039]},"axis":null},"y":{"field":"t","type":"nominal","sort":null},"order":{"field":"i"}}}
  ]},
 {"width":230,"height":7,"data":{"values":[{"s":"PROJECTION FIBERS"}]},"mark":{"type":"text","dx":115.85},"encoding":{"text":{"field":"s"}}},
 {"width":230,"height":7,"data":{"values":[{"s":""}]},"mark":"text","encoding":{"text":{"field":"s"}}},
  {"width":230,"height":38,"data":{"name":"cells"},"transform":[{"filter":"datum.p=='I'&&datum.g==2"}],"resolve":{"scale":{"x":"independent"}},"layer":[
   {"mark":"rect","encoding":{"x":{"field":"c","type":"nominal","scale":{"domain":["CLUSTER 4","CLUSTER 2","CLUSTER 3","CLUSTER 1"]},"axis":null},"y":{"field":"t","type":"nominal","sort":null,"axis":{"orient":"left","labelAlign":"left","labelPadding":25.5}},"color":{"field":"v","type":"quantitative","legend":null,"scale":{"domain":[-1.33,-0.085,1.16,1.99],"range":["#ff0000","#ff8000","#ffff00","#ffffff"]}},"stroke":{"field":"v","type":"quantitative","legend":null,"scale":{"domain":[-1.33,-0.085,1.16,1.99],"range":["#ff0000","#ff8000","#ffff00","#ffffff"]}}}},
   {"transform":[{"aggregate":[{"op":"count","as":"n"}],"groupby":["c"]}],"mark":"rule","encoding":{"x":{"field":"c","type":"nominal","scale":{"domain":["CLUSTER 4","CLUSTER 2","CLUSTER 3","CLUSTER 1"]},"axis":null}}},
   {"transform":[{"filter":"datum.c=='CLUSTER 4'"}],"mark":"line","encoding":{"x":{"field":"v","type":"quantitative","scale":{"domain":[-1.33,11.95]},"axis":null},"y":{"field":"t","type":"nominal","sort":null},"order":{"field":"i"}}},
   {"transform":[{"filter":"datum.c=='CLUSTER 2'"}],"mark":"line","encoding":{"x":{"field":"v","type":"quantitative","scale":{"domain":[-4.65,8.63]},"axis":null},"y":{"field":"t","type":"nominal","sort":null},"order":{"field":"i"}}},
   {"transform":[{"filter":"datum.c=='CLUSTER 3'"}],"mark":"line","encoding":{"x":{"field":"v","type":"quantitative","scale":{"domain":[-7.97,5.31]},"axis":null},"y":{"field":"t","type":"nominal","sort":null},"order":{"field":"i"}}},
   {"transform":[{"filter":"datum.c=='CLUSTER 1'"}],"mark":"line","encoding":{"x":{"field":"v","type":"quantitative","scale":{"domain":[-11.29,1.99]},"axis":null},"y":{"field":"t","type":"nominal","sort":null},"order":{"field":"i"}}}
  ]},
  {"width":230,"height":38,"data":{"name":"cells"},"transform":[{"filter":"datum.p=='S'&&datum.g==2"}],"resolve":{"scale":{"x":"independent"}},"layer":[
   {"mark":"rect","encoding":{"x":{"field":"c","type":"nominal","scale":{"domain":["CLUSTER 4","CLUSTER 3","CLUSTER 2","CLUSTER 1"]},"axis":null},"y":{"field":"t","type":"nominal","sort":null,"axis":{"orient":"right","labelPadding":2}},"color":{"field":"v","type":"quantitative","legend":null,"scale":{"domain":[-0.114,-0.0566,0.0008,0.039],"range":["#ff0000","#ff8000","#ffff00","#ffffff"]}},"stroke":{"field":"v","type":"quantitative","legend":null,"scale":{"domain":[-0.114,-0.0566,0.0008,0.039],"range":["#ff0000","#ff8000","#ffff00","#ffffff"]}}}},
   {"transform":[{"aggregate":[{"op":"count","as":"n"}],"groupby":["c"]}],"mark":"rule","encoding":{"x":{"field":"c","type":"nominal","scale":{"domain":["CLUSTER 4","CLUSTER 3","CLUSTER 2","CLUSTER 1"]},"axis":null}}},
   {"transform":[{"filter":"datum.c=='CLUSTER 4'"}],"mark":"line","encoding":{"x":{"field":"v","type":"quantitative","scale":{"domain":[-0.114,0.498]},"axis":null},"y":{"field":"t","type":"nominal","sort":null},"order":{"field":"i"}}},
   {"transform":[{"filter":"datum.c=='CLUSTER 3'"}],"mark":"line","encoding":{"x":{"field":"v","type":"quantitative","scale":{"domain":[-0.267,0.345]},"axis":null},"y":{"field":"t","type":"nominal","sort":null},"order":{"field":"i"}}},
   {"transform":[{"filter":"datum.c=='CLUSTER 2'"}],"mark":"line","encoding":{"x":{"field":"v","type":"quantitative","scale":{"domain":[-0.42,0.192]},"axis":null},"y":{"field":"t","type":"nominal","sort":null},"order":{"field":"i"}}},
   {"transform":[{"filter":"datum.c=='CLUSTER 1'"}],"mark":"line","encoding":{"x":{"field":"v","type":"quantitative","scale":{"domain":[-0.573,0.039]},"axis":null},"y":{"field":"t","type":"nominal","sort":null},"order":{"field":"i"}}}
  ]},
 {"width":230,"height":6,"data":{"values":[{"s":"ASSOCIATION FIBERS"}]},"mark":{"type":"text","dx":115.85},"encoding":{"text":{"field":"s"}}},
 {"width":230,"height":6,"data":{"values":[{"s":""}]},"mark":"text","encoding":{"text":{"field":"s"}}},
  {"width":230,"height":24,"data":{"name":"cells"},"transform":[{"filter":"datum.p=='I'&&datum.g==3"}],"resolve":{"scale":{"x":"independent"}},"layer":[
   {"mark":"rect","encoding":{"x":{"field":"c","type":"nominal","scale":{"domain":["CLUSTER 4","CLUSTER 2","CLUSTER 3","CLUSTER 1"]},"axis":null},"y":{"field":"t","type":"nominal","sort":null,"axis":{"orient":"left","labelAlign":"left","labelPadding":25.5}},"color":{"field":"v","type":"quantitative","legend":null,"scale":{"domain":[-1.33,-0.085,1.16,1.99],"range":["#ff0000","#ff8000","#ffff00","#ffffff"]}},"stroke":{"field":"v","type":"quantitative","legend":null,"scale":{"domain":[-1.33,-0.085,1.16,1.99],"range":["#ff0000","#ff8000","#ffff00","#ffffff"]}}}},
   {"transform":[{"aggregate":[{"op":"count","as":"n"}],"groupby":["c"]}],"mark":"rule","encoding":{"x":{"field":"c","type":"nominal","scale":{"domain":["CLUSTER 4","CLUSTER 2","CLUSTER 3","CLUSTER 1"]},"axis":null}}},
   {"transform":[{"filter":"datum.c=='CLUSTER 4'"}],"mark":"line","encoding":{"x":{"field":"v","type":"quantitative","scale":{"domain":[-1.33,11.95]},"axis":null},"y":{"field":"t","type":"nominal","sort":null},"order":{"field":"i"}}},
   {"transform":[{"filter":"datum.c=='CLUSTER 2'"}],"mark":"line","encoding":{"x":{"field":"v","type":"quantitative","scale":{"domain":[-4.65,8.63]},"axis":null},"y":{"field":"t","type":"nominal","sort":null},"order":{"field":"i"}}},
   {"transform":[{"filter":"datum.c=='CLUSTER 3'"}],"mark":"line","encoding":{"x":{"field":"v","type":"quantitative","scale":{"domain":[-7.97,5.31]},"axis":null},"y":{"field":"t","type":"nominal","sort":null},"order":{"field":"i"}}},
   {"transform":[{"filter":"datum.c=='CLUSTER 1'"}],"mark":"line","encoding":{"x":{"field":"v","type":"quantitative","scale":{"domain":[-11.29,1.99]},"axis":null},"y":{"field":"t","type":"nominal","sort":null},"order":{"field":"i"}}}
  ]},
  {"width":230,"height":24,"data":{"name":"cells"},"transform":[{"filter":"datum.p=='S'&&datum.g==3"}],"resolve":{"scale":{"x":"independent"}},"layer":[
   {"mark":"rect","encoding":{"x":{"field":"c","type":"nominal","scale":{"domain":["CLUSTER 4","CLUSTER 3","CLUSTER 2","CLUSTER 1"]},"axis":null},"y":{"field":"t","type":"nominal","sort":null,"axis":{"orient":"right","labelPadding":2}},"color":{"field":"v","type":"quantitative","legend":null,"scale":{"domain":[-0.114,-0.0566,0.0008,0.039],"range":["#ff0000","#ff8000","#ffff00","#ffffff"]}},"stroke":{"field":"v","type":"quantitative","legend":null,"scale":{"domain":[-0.114,-0.0566,0.0008,0.039],"range":["#ff0000","#ff8000","#ffff00","#ffffff"]}}}},
   {"transform":[{"aggregate":[{"op":"count","as":"n"}],"groupby":["c"]}],"mark":"rule","encoding":{"x":{"field":"c","type":"nominal","scale":{"domain":["CLUSTER 4","CLUSTER 3","CLUSTER 2","CLUSTER 1"]},"axis":null}}},
   {"transform":[{"filter":"datum.c=='CLUSTER 4'"}],"mark":"line","encoding":{"x":{"field":"v","type":"quantitative","scale":{"domain":[-0.114,0.498]},"axis":null},"y":{"field":"t","type":"nominal","sort":null},"order":{"field":"i"}}},
   {"transform":[{"filter":"datum.c=='CLUSTER 3'"}],"mark":"line","encoding":{"x":{"field":"v","type":"quantitative","scale":{"domain":[-0.267,0.345]},"axis":null},"y":{"field":"t","type":"nominal","sort":null},"order":{"field":"i"}}},
   {"transform":[{"filter":"datum.c=='CLUSTER 2'"}],"mark":"line","encoding":{"x":{"field":"v","type":"quantitative","scale":{"domain":[-0.42,0.192]},"axis":null},"y":{"field":"t","type":"nominal","sort":null},"order":{"field":"i"}}},
   {"transform":[{"filter":"datum.c=='CLUSTER 1'"}],"mark":"line","encoding":{"x":{"field":"v","type":"quantitative","scale":{"domain":[-0.573,0.039]},"axis":null},"y":{"field":"t","type":"nominal","sort":null},"order":{"field":"i"}}}
  ]},
 {"width":230,"height":7,"data":{"values":[{"s":"BRAINSTEM FIBERS"}]},"mark":{"type":"text","dx":115.85},"encoding":{"text":{"field":"s"}}},
 {"width":230,"height":7,"data":{"values":[{"s":""}]},"mark":"text","encoding":{"text":{"field":"s"}}},
  {"width":230,"height":30,"data":{"name":"cells"},"transform":[{"filter":"datum.p=='I'&&datum.g==4"}],"resolve":{"scale":{"x":"independent"}},"layer":[
   {"mark":"rect","encoding":{"x":{"field":"c","type":"nominal","scale":{"domain":["CLUSTER 4","CLUSTER 2","CLUSTER 3","CLUSTER 1"]},"axis":null},"y":{"field":"t","type":"nominal","sort":null,"axis":{"orient":"left","labelAlign":"left","labelPadding":25.5}},"color":{"field":"v","type":"quantitative","legend":null,"scale":{"domain":[-1.33,-0.085,1.16,1.99],"range":["#ff0000","#ff8000","#ffff00","#ffffff"]}},"stroke":{"field":"v","type":"quantitative","legend":null,"scale":{"domain":[-1.33,-0.085,1.16,1.99],"range":["#ff0000","#ff8000","#ffff00","#ffffff"]}}}},
   {"transform":[{"aggregate":[{"op":"count","as":"n"}],"groupby":["c"]}],"mark":"rule","encoding":{"x":{"field":"c","type":"nominal","scale":{"domain":["CLUSTER 4","CLUSTER 2","CLUSTER 3","CLUSTER 1"]},"axis":null}}},
   {"transform":[{"filter":"datum.c=='CLUSTER 4'"}],"mark":"line","encoding":{"x":{"field":"v","type":"quantitative","scale":{"domain":[-1.33,11.95]},"axis":null},"y":{"field":"t","type":"nominal","sort":null},"order":{"field":"i"}}},
   {"transform":[{"filter":"datum.c=='CLUSTER 2'"}],"mark":"line","encoding":{"x":{"field":"v","type":"quantitative","scale":{"domain":[-4.65,8.63]},"axis":null},"y":{"field":"t","type":"nominal","sort":null},"order":{"field":"i"}}},
   {"transform":[{"filter":"datum.c=='CLUSTER 3'"}],"mark":"line","encoding":{"x":{"field":"v","type":"quantitative","scale":{"domain":[-7.97,5.31]},"axis":null},"y":{"field":"t","type":"nominal","sort":null},"order":{"field":"i"}}},
   {"transform":[{"filter":"datum.c=='CLUSTER 1'"}],"mark":"line","encoding":{"x":{"field":"v","type":"quantitative","scale":{"domain":[-11.29,1.99]},"axis":null},"y":{"field":"t","type":"nominal","sort":null},"order":{"field":"i"}}}
  ]},
  {"width":230,"height":30,"data":{"name":"cells"},"transform":[{"filter":"datum.p=='S'&&datum.g==4"}],"resolve":{"scale":{"x":"independent"}},"layer":[
   {"mark":"rect","encoding":{"x":{"field":"c","type":"nominal","scale":{"domain":["CLUSTER 4","CLUSTER 3","CLUSTER 2","CLUSTER 1"]},"axis":null},"y":{"field":"t","type":"nominal","sort":null,"axis":{"orient":"right","labelPadding":2}},"color":{"field":"v","type":"quantitative","legend":null,"scale":{"domain":[-0.114,-0.0566,0.0008,0.039],"range":["#ff0000","#ff8000","#ffff00","#ffffff"]}},"stroke":{"field":"v","type":"quantitative","legend":null,"scale":{"domain":[-0.114,-0.0566,0.0008,0.039],"range":["#ff0000","#ff8000","#ffff00","#ffffff"]}}}},
   {"transform":[{"aggregate":[{"op":"count","as":"n"}],"groupby":["c"]}],"mark":"rule","encoding":{"x":{"field":"c","type":"nominal","scale":{"domain":["CLUSTER 4","CLUSTER 3","CLUSTER 2","CLUSTER 1"]},"axis":null}}},
   {"transform":[{"filter":"datum.c=='CLUSTER 4'"}],"mark":"line","encoding":{"x":{"field":"v","type":"quantitative","scale":{"domain":[-0.114,0.498]},"axis":null},"y":{"field":"t","type":"nominal","sort":null},"order":{"field":"i"}}},
   {"transform":[{"filter":"datum.c=='CLUSTER 3'"}],"mark":"line","encoding":{"x":{"field":"v","type":"quantitative","scale":{"domain":[-0.267,0.345]},"axis":null},"y":{"field":"t","type":"nominal","sort":null},"order":{"field":"i"}}},
   {"transform":[{"filter":"datum.c=='CLUSTER 2'"}],"mark":"line","encoding":{"x":{"field":"v","type":"quantitative","scale":{"domain":[-0.42,0.192]},"axis":null},"y":{"field":"t","type":"nominal","sort":null},"order":{"field":"i"}}},
   {"transform":[{"filter":"datum.c=='CLUSTER 1'"}],"mark":"line","encoding":{"x":{"field":"v","type":"quantitative","scale":{"domain":[-0.573,0.039]},"axis":null},"y":{"field":"t","type":"nominal","sort":null},"order":{"field":"i"}}}
  ]},
 {"width":230,"height":7,"data":{"values":[{"s":"SUPERFICIAL WHITE MATTER"}]},"mark":{"type":"text","dx":115.85},"encoding":{"text":{"field":"s"}}},
 {"width":230,"height":7,"data":{"values":[{"s":""}]},"mark":"text","encoding":{"text":{"field":"s"}}},
  {"width":230,"height":58,"data":{"name":"cells"},"transform":[{"filter":"datum.p=='I'&&datum.g==5"}],"resolve":{"scale":{"x":"independent"}},"layer":[
   {"mark":"rect","encoding":{"x":{"field":"c","type":"nominal","scale":{"domain":["CLUSTER 4","CLUSTER 2","CLUSTER 3","CLUSTER 1"]},"axis":{"orient":"bottom","labelAngle":0,"labelPadding":1.5}},"y":{"field":"t","type":"nominal","sort":null,"axis":{"orient":"left","labelAlign":"left","labelPadding":25.5}},"color":{"field":"v","type":"quantitative","legend":null,"scale":{"domain":[-1.33,-0.085,1.16,1.99],"range":["#ff0000","#ff8000","#ffff00","#ffffff"]}},"stroke":{"field":"v","type":"quantitative","legend":null,"scale":{"domain":[-1.33,-0.085,1.16,1.99],"range":["#ff0000","#ff8000","#ffff00","#ffffff"]}}}},
   {"transform":[{"aggregate":[{"op":"count","as":"n"}],"groupby":["c"]}],"mark":"rule","encoding":{"x":{"field":"c","type":"nominal","scale":{"domain":["CLUSTER 4","CLUSTER 2","CLUSTER 3","CLUSTER 1"]},"axis":null}}},
   {"transform":[{"filter":"datum.c=='CLUSTER 4'"}],"mark":"line","encoding":{"x":{"field":"v","type":"quantitative","scale":{"domain":[-1.33,11.95]},"axis":null},"y":{"field":"t","type":"nominal","sort":null},"order":{"field":"i"}}},
   {"transform":[{"filter":"datum.c=='CLUSTER 2'"}],"mark":"line","encoding":{"x":{"field":"v","type":"quantitative","scale":{"domain":[-4.65,8.63]},"axis":null},"y":{"field":"t","type":"nominal","sort":null},"order":{"field":"i"}}},
   {"transform":[{"filter":"datum.c=='CLUSTER 3'"}],"mark":"line","encoding":{"x":{"field":"v","type":"quantitative","scale":{"domain":[-7.97,5.31]},"axis":null},"y":{"field":"t","type":"nominal","sort":null},"order":{"field":"i"}}},
   {"transform":[{"filter":"datum.c=='CLUSTER 1'"}],"mark":"line","encoding":{"x":{"field":"v","type":"quantitative","scale":{"domain":[-11.29,1.99]},"axis":null},"y":{"field":"t","type":"nominal","sort":null},"order":{"field":"i"}}}
  ]},
  {"width":230,"height":58,"data":{"name":"cells"},"transform":[{"filter":"datum.p=='S'&&datum.g==5"}],"resolve":{"scale":{"x":"independent"}},"layer":[
   {"mark":"rect","encoding":{"x":{"field":"c","type":"nominal","scale":{"domain":["CLUSTER 4","CLUSTER 3","CLUSTER 2","CLUSTER 1"]},"axis":{"orient":"bottom","labelAngle":0,"labelPadding":1.5}},"y":{"field":"t","type":"nominal","sort":null,"axis":{"orient":"right","labelPadding":2}},"color":{"field":"v","type":"quantitative","legend":null,"scale":{"domain":[-0.114,-0.0566,0.0008,0.039],"range":["#ff0000","#ff8000","#ffff00","#ffffff"]}},"stroke":{"field":"v","type":"quantitative","legend":null,"scale":{"domain":[-0.114,-0.0566,0.0008,0.039],"range":["#ff0000","#ff8000","#ffff00","#ffffff"]}}}},
   {"transform":[{"aggregate":[{"op":"count","as":"n"}],"groupby":["c"]}],"mark":"rule","encoding":{"x":{"field":"c","type":"nominal","scale":{"domain":["CLUSTER 4","CLUSTER 3","CLUSTER 2","CLUSTER 1"]},"axis":null}}},
   {"transform":[{"filter":"datum.c=='CLUSTER 4'"}],"mark":"line","encoding":{"x":{"field":"v","type":"quantitative","scale":{"domain":[-0.114,0.498]},"axis":null},"y":{"field":"t","type":"nominal","sort":null},"order":{"field":"i"}}},
   {"transform":[{"filter":"datum.c=='CLUSTER 3'"}],"mark":"line","encoding":{"x":{"field":"v","type":"quantitative","scale":{"domain":[-0.267,0.345]},"axis":null},"y":{"field":"t","type":"nominal","sort":null},"order":{"field":"i"}}},
   {"transform":[{"filter":"datum.c=='CLUSTER 2'"}],"mark":"line","encoding":{"x":{"field":"v","type":"quantitative","scale":{"domain":[-0.42,0.192]},"axis":null},"y":{"field":"t","type":"nominal","sort":null},"order":{"field":"i"}}},
   {"transform":[{"filter":"datum.c=='CLUSTER 1'"}],"mark":"line","encoding":{"x":{"field":"v","type":"quantitative","scale":{"domain":[-0.573,0.039]},"axis":null},"y":{"field":"t","type":"nominal","sort":null},"order":{"field":"i"}}}
  ]},
 {"width":230,"height":11,"data":{"values":[{"s":""}]},"mark":"text","encoding":{"text":{"field":"s"}}},
 {"width":230,"height":11,"data":{"values":[{"s":""}]},"mark":"text","encoding":{"text":{"field":"s"}}},
 {"width":230,"height":24,"layer":[
  {"data":{"values":[{"lo":-1.33,"hi":-1.05},{"lo":-1.1,"hi":-0.82},{"lo":-0.87,"hi":-0.59},{"lo":-0.64,"hi":-0.36},{"lo":-0.41,"hi":-0.13},{"lo":-0.18,"hi":0.1},{"lo":0.05,"hi":0.33},{"lo":0.28,"hi":0.56},{"lo":0.51,"hi":0.79},{"lo":0.74,"hi":1.02},{"lo":0.97,"hi":1.25},{"lo":1.2,"hi":1.48},{"lo":1.43,"hi":1.71},{"lo":1.66,"hi":1.99}]},"mark":{"type":"rect"},"encoding":{"x":{"field":"lo","type":"quantitative","scale":{"domain":[-8.51,9.25]},"axis":{"orient":"bottom","values":[-1,-0.5,0,0.5,1,1.5],"labelFont":"Liberation Serif","labelFontWeight":"normal","labelFontSize":4.6,"labelColor":"#555","labelPadding":0,"ticks":true,"tickSize":1,"tickColor":"#888"}},"x2":{"field":"hi"},"color":{"field":"lo","type":"quantitative","legend":null,"scale":{"domain":[-1.33,-0.085,1.16,1.99],"range":["#ff4444","#ff9a33","#ffff44","#ffffff"]}}}},
  {"data":{"values":[{"lo":-1.33,"hi":1.99}]},"mark":{"type":"rect","fill":null,"stroke":"#888","strokeWidth":1},"encoding":{"x":{"field":"lo","type":"quantitative"},"x2":{"field":"hi"}}},
  {"data":{"values":[{"n":0,"x":-1.2,"d":0},{"n":1,"x":-0.95,"d":0},{"n":2,"x":-0.56,"d":0.21},{"n":3,"x":-0.17,"d":0.55},{"n":4,"x":0.21,"d":0.69},{"n":5,"x":0.47,"d":0.97},{"n":6,"x":0.73,"d":0.55},{"n":7,"x":0.98,"d":0.35},{"n":8,"x":1.19,"d":0.28},{"n":9,"x":1.37,"d":0.35},{"n":10,"x":1.55,"d":0.07},{"n":11,"x":1.75,"d":0}]},"mark":{"type":"line","interpolate":"linear"},"encoding":{"x":{"field":"x","type":"quantitative"},"y":{"field":"d","type":"quantitative","scale":{"domain":[0,1]},"axis":{"orient":"left","offset":-93,"values":[0,0.2,0.6,1],"labelFont":"Liberation Serif","labelFontWeight":"normal","labelFontSize":4.6,"labelColor":"#555","labelPadding":1,"ticks":true,"tickSize":1,"tickColor":"#888"}},"order":{"field":"n"}}}
 ]},
 {"width":230,"height":24,"layer":[
  {"data":{"values":[{"lo":-0.114,"hi":-0.102},{"lo":-0.104,"hi":-0.092},{"lo":-0.094,"hi":-0.082},{"lo":-0.084,"hi":-0.072},{"lo":-0.074,"hi":-0.062},{"lo":-0.064,"hi":-0.052},{"lo":-0.054,"hi":-0.042},{"lo":-0.044,"hi":-0.032},{"lo":-0.034,"hi":-0.022},{"lo":-0.024,"hi":-0.012},{"lo":-0.014,"hi":-0.002},{"lo":-0.004,"hi":0.008},{"lo":0.006,"hi":0.018},{"lo":0.016,"hi":0.028},{"lo":0.026,"hi":0.039}]},"mark":{"type":"rect"},"encoding":{"x":{"field":"lo","type":"quantitative","scale":{"domain":[-0.4532,0.3653]},"axis":{"orient":"bottom","values":[-0.1,-0.05,0],"labelFont":"Liberation Serif","labelFontWeight":"normal","labelFontSize":4.6,"labelColor":"#555","labelPadding":0,"ticks":true,"tickSize":1,"tickColor":"#888"}},"x2":{"field":"hi"},"color":{"field":"lo","type":"quantitative","legend":null,"scale":{"domain":[-0.114,-0.0566,0.0008,0.039],"range":["#ff4444","#ff9a33","#ffff44","#ffffff"]}}}},
  {"data":{"values":[{"lo":-0.114,"hi":0.039}]},"mark":{"type":"rect","fill":null,"stroke":"#888","strokeWidth":1},"encoding":{"x":{"field":"lo","type":"quantitative"},"x2":{"field":"hi"}}},
  {"data":{"values":[{"n":0,"x":-0.11,"d":0},{"n":1,"x":-0.092,"d":3.3},{"n":2,"x":-0.08,"d":0.8},{"n":3,"x":-0.068,"d":5.8},{"n":4,"x":-0.05,"d":11},{"n":5,"x":-0.036,"d":3.3},{"n":6,"x":-0.02,"d":7.5},{"n":7,"x":-0.008,"d":2.5},{"n":8,"x":0.01,"d":0.3}]},"mark":{"type":"line","interpolate":"linear"},"encoding":{"x":{"field":"x","type":"quantitative"},"y":{"field":"d","type":"quantitative","scale":{"domain":[0,12]},"axis":{"orient":"left","offset":-95.3,"values":[0,2,4,6,8,10,12],"labelFont":"Liberation Serif","labelFontWeight":"normal","labelFontSize":4.6,"labelColor":"#555","labelPadding":1,"ticks":true,"tickSize":1,"tickColor":"#888"}},"order":{"field":"n"}}}
 ]}
]}
